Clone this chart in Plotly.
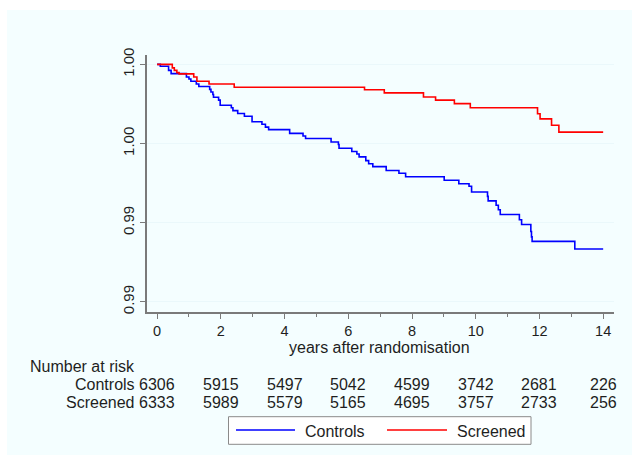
import plotly.graph_objects as go

# ---------------- data ----------------
controls_t = [0, 0.10, 0.36, 0.44, 0.92, 1.00, 1.06, 1.23, 1.31, 1.65, 1.69, 1.75, 1.77, 1.93, 1.98,
              2.33, 2.38, 2.53, 2.74, 2.98, 3.29, 3.40, 3.50, 4.16, 4.58, 4.66, 5.46, 5.69, 5.71,
              6.11, 6.27, 6.34, 6.55, 6.64, 6.77, 7.19, 7.59, 7.80, 9.01, 9.47, 9.79, 9.87, 10.37,
              10.39, 10.64, 10.71, 10.77, 11.37, 11.44, 11.73, 11.75, 11.77, 13.11, 14.0]
controls_s = [1.0, 0.99994, 0.99981, 0.99971, 0.99960, 0.99954, 0.99947, 0.99938, 0.99930, 0.99921,
              0.99913, 0.99905, 0.99896, 0.99887, 0.99871, 0.99863, 0.99854, 0.99845, 0.99836,
              0.99819, 0.99811, 0.99802, 0.99794, 0.99782, 0.99774, 0.99766, 0.99755, 0.99747,
              0.99735, 0.99725, 0.99717, 0.99708, 0.99696, 0.99686, 0.99677, 0.99665, 0.99656,
              0.99645, 0.99634, 0.99623, 0.99615, 0.99597, 0.99583, 0.99569, 0.99555, 0.99541,
              0.99526, 0.99509, 0.99494, 0.99472, 0.99455, 0.99441, 0.99417, 0.99417]

screened_t = [0, 0.477, 0.54, 0.62, 0.69, 1.15, 1.25, 1.63, 2.42, 6.51, 7.13, 8.36, 8.74, 9.33,
              9.83, 11.94, 12.02, 12.38, 12.61, 14.0]
screened_s = [1.0, 0.99989, 0.99981, 0.99974, 0.99970, 0.99960, 0.99947, 0.99938, 0.99928,
              0.99920, 0.99910, 0.99897, 0.99887, 0.99876, 0.99863, 0.99844, 0.99828, 0.99808,
              0.99786, 0.99786]

risk_times = [0, 2, 4, 6, 8, 10, 12, 14]
controls_risk = [6306, 5915, 5497, 5042, 4599, 3742, 2681, 226]
screened_risk = [6333, 5989, 5579, 5165, 4695, 3757, 2733, 256]

y_tickvals = [0.9925, 0.995, 0.9975, 1.0]
y_ticktext = ["0.99", "0.99", "1.00", "1.00"]
x_tickvals = [0, 2, 4, 6, 8, 10, 12, 14]

series_names = ["Controls", "Screened"]
series_colors = ["#0000ff", "#ff0000"]

# ---------------- layout geometry (pixels) ----------------
W, H = 632, 457
L, R, T, B = 147, 614, 55, 312
FONT = "Liberation Sans, Arial, sans-serif"
TXT = "#1e1e1e"


def fx(px):
    return (px - L) / (R - L)


def fy(py):
    return (B - py) / (B - T)


fig = go.Figure()
for t, s, name, col in zip([controls_t, screened_t], [controls_s, screened_s],
                           series_names, series_colors):
    fig.add_trace(go.Scatter(x=t, y=s, mode="lines", name=name,
                             line=dict(color=col, width=1.6, shape="hv"),
                             showlegend=False, hoverinfo="skip"))

shapes = [
    # light cyan outer background
    dict(type="rect", xref="paper", yref="paper", layer="below",
         x0=fx(7), x1=fx(632), y0=fy(455), y1=fy(10),
         fillcolor="#f4feff", line=dict(width=0)),
    # legend box
    dict(type="rect", xref="paper", yref="paper",
         x0=fx(228.5), x1=fx(531), y0=fy(444.3), y1=fy(416.7),
         fillcolor="#ffffff", line=dict(color="#8a8a8a", width=1)),
]
legend_line_px = [(236, 295), (387, 447)]
legend_text_px = [304, 456]
for (a, b_), col in zip(legend_line_px, series_colors):
    shapes.append(dict(type="line", xref="paper", yref="paper",
                       x0=fx(a), x1=fx(b_), y0=fy(430), y1=fy(430),
                       line=dict(color=col, width=1.6)))

annotations = []
for name, xp in zip(series_names, legend_text_px):
    annotations.append(dict(text=name, xref="paper", yref="paper", x=fx(xp), y=fy(431),
                            xanchor="left", yanchor="middle", showarrow=False, borderpad=0,
                            font=dict(family=FONT, size=16, color=TXT)))

# x axis title
annotations.append(dict(text="years after randomisation", xref="paper", yref="paper",
                        x=fx(379.5), y=fy(347.5), xanchor="center", yanchor="middle",
                        showarrow=False, borderpad=0,
                        font=dict(family=FONT, size=16, color=TXT)))
# number at risk table
annotations.append(dict(text="Number at risk", xref="paper", yref="paper",
                        x=fx(29), y=fy(366.5), xanchor="left", yanchor="middle",
                        showarrow=False, borderpad=0,
                        font=dict(family=FONT, size=16, color=TXT)))
for name, risk, rowy in zip(series_names, [controls_risk, screened_risk], [385, 402]):
    annotations.append(dict(text=name, xref="paper", yref="paper",
                            x=fx(136), y=fy(rowy), xanchor="right", yanchor="middle",
                            showarrow=False, borderpad=0,
                            font=dict(family=FONT, size=16, color=TXT)))
    for tt, n in zip(risk_times, risk):
        annotations.append(dict(text=str(n), xref="x", yref="paper",
                                x=tt, y=fy(rowy), xanchor="center", yanchor="middle",
                                showarrow=False, borderpad=0,
                                font=dict(family=FONT, size=16, color=TXT)))

fig.update_layout(
    width=W, height=H,
    margin=dict(l=L, r=W - R, t=T, b=H - B, pad=0),
    paper_bgcolor="#ffffff",
    plot_bgcolor="#ffffff",
    shapes=shapes,
    annotations=annotations,
    showlegend=False,
    xaxis=dict(range=[-0.317, 14.34], tickvals=x_tickvals, ticks="outside", ticklen=5,
               tickwidth=1, tickcolor="#7a7a7a", showline=True, linecolor="#7a7a7a",
               linewidth=1.5, showgrid=False, zeroline=False,
               tickfont=dict(family=FONT, size=14.5, color=TXT),
               minor=dict(dtick=1, tick0=1, ticks="outside", ticklen=3, tickcolor="#7a7a7a",
                          showgrid=False)),
    yaxis=dict(range=[0.992178, 1.000297], tickvals=y_tickvals, ticktext=y_ticktext,
               ticks="outside", ticklen=5, tickwidth=1, tickcolor="#7a7a7a",
               tickangle=-90, showline=True, linecolor="#7a7a7a", linewidth=1.5,
               showgrid=True, gridcolor="#eaf8fb", gridwidth=1, zeroline=False,
               tickfont=dict(family=FONT, size=15, color=TXT)),
)

fig.write_html("out.html")
